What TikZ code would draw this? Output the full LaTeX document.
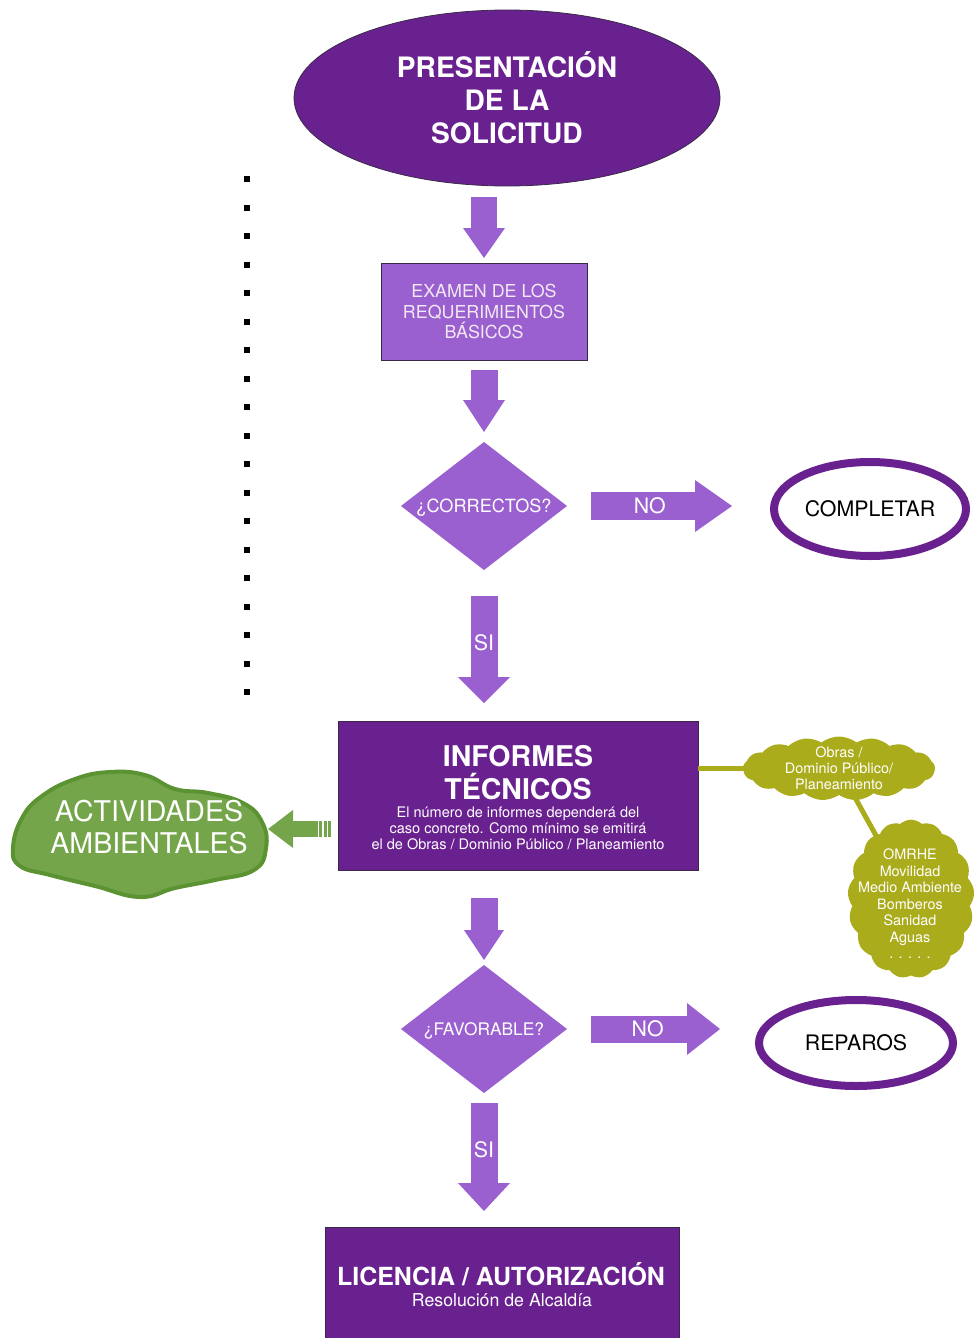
\documentclass[tikz,border=0pt]{standalone}
\usepackage{fontspec}
\setmainfont{TeX Gyre Heros}
\usetikzlibrary{shapes.geometric,shapes.symbols,arrows.meta}
\definecolor{dpurple}{HTML}{6A2190}
\definecolor{lpurple}{HTML}{9A60CF}
\definecolor{edgedark}{HTML}{3A2A48}
\definecolor{lighttext}{HTML}{F2E8F4}
\definecolor{myolive}{HTML}{ABAC1C}
\definecolor{gfill}{HTML}{74A54A}
\definecolor{gedge}{HTML}{5B9332}
\newcommand\myfs[2]{\fontsize{#1}{#2}\selectfont}
\begin{document}
\begin{tikzpicture}[x=0.75pt,y=-0.75pt,
  every node/.style={outer sep=0pt},
  darkbox/.style={rectangle, fill=dpurple, draw=edgedark, line width=0.6pt, inner sep=0pt},
  lightbox/.style={rectangle, fill=lpurple, draw=edgedark, line width=0.6pt, inner sep=0pt},
  decision/.style={diamond, fill=lpurple, inner sep=0pt, minimum width=124.5pt, minimum height=96pt},
  ring/.style={ellipse, draw=dpurple, line width=6pt, fill=white, inner sep=0pt, text=black, font=\myfs{16}{19}},
  blockarrow/.style n args={3}{draw=lpurple, line width=#1, -{Triangle[length=#2, width=#3, line width=0pt]}},
  arrowlabel/.style={text=white, font=\myfs{16}{19}, inner sep=0pt},
  olivecloud/.style={cloud, cloud ignores aspect, fill=myolive, inner sep=0pt},
  oliveline/.style={draw=myolive, line width=3.75pt},
  wtext/.style={text=white, align=center, inner sep=0pt},
]
\useasboundingbox (0,0) rectangle (974,1338);
\clip (0,0) rectangle (974,1338);

% dotted column
\foreach \k in {0,...,18} \fill[black] (244,{176+28.5*\k}) rectangle ++(6,6);

% main nodes
\node[ellipse, fill=dpurple, draw=edgedark, line width=0.6pt, minimum width=319.5pt, minimum height=132pt, wtext, font=\bfseries\myfs{21.1}{24.75}] (pres) at (507,98) {PRESENTACIÓN\\DE LA\\SOLICITUD};

\node[lightbox, minimum width=154.5pt, minimum height=72.75pt, text=lighttext, align=center, font=\myfs{13.4}{15.2}] (exam) at (484,311.5) {EXAMEN DE LOS\\REQUERIMIENTOS\\BÁSICOS};

\node[decision] (corr) at (484,506) {};
\node[text=white, inner sep=0pt, anchor=base, font=\myfs{13.6}{16}] (corrtxt) at (484,512.5) {¿CORRECTOS?};

\node[ring, minimum width=144pt, minimum height=70.5pt] (compl) at (870,509) {COMPLETAR};

\node[darkbox, minimum width=270pt, minimum height=111.75pt] (inf) at (518,795.5) {};
\node[wtext, font=\bfseries\myfs{21.4}{24.75}] (inftitle) at (518,772.5) {INFORMES\\TÉCNICOS};
\node[wtext, font=\myfs{10.9}{12}] (infsub) at (518,828.5) {El número de informes dependerá del\\caso concreto. Como mínimo se emitirá\\el de Obras / Dominio Público / Planeamiento};

\node[decision] (fav) at (484,1029) {};
\node[text=white, inner sep=0pt, anchor=base, font=\myfs{13}{16}] (favtxt) at (484,1035.3) {¿FAVORABLE?};

\node[ring, minimum width=145.5pt, minimum height=64.5pt] (rep) at (856,1043) {REPAROS};

\node[darkbox, minimum width=265.5pt, minimum height=88.5pt] (lic) at (502,1286) {};
\node[text=white, inner sep=0pt, anchor=base, font=\bfseries\myfs{18.7}{22}] (lictitle) at (501,1285) {LICENCIA / AUTORIZACIÓN};
\node[text=white, inner sep=0pt, anchor=base, font=\myfs{13.3}{16}] (licsub) at (502,1306) {Resolución de Alcaldía};

% purple block arrows
\draw[blockarrow={19.5pt}{22.5pt}{31.5pt}, shorten <=8.25pt, shorten >=3.75pt] (exam.north |- pres.south) -- (exam.north);
\draw[blockarrow={20.25pt}{24pt}{31.5pt}, shorten <=7.5pt, shorten >=7.5pt] (exam.south) -- (corr.north);
\draw[blockarrow={21pt}{27.75pt}{39pt}, shorten <=18pt, shorten >=31.5pt] (corr.east) -- (corr.east -| compl.west) node[arrowlabel, pos=0.4] (no1) {NO};
\draw[blockarrow={20.25pt}{19.5pt}{39pt}, shorten <=19.5pt, shorten >=13.5pt] (corr.south) -- (corr.south |- inf.north) node[arrowlabel, pos=0.483] (si1) {SI};
\draw[blockarrow={20.25pt}{22.5pt}{30pt}, shorten <=21pt, shorten >=3.75pt] (fav.north |- inf.south) -- (fav.north);
\draw[blockarrow={20.25pt}{24.75pt}{39pt}, shorten <=18pt, shorten >=29.25pt] (fav.east) -- (fav.east -| rep.west) node[arrowlabel, pos=0.42] (no2) {NO};
\draw[blockarrow={20.25pt}{21pt}{39pt}, shorten <=7.5pt, shorten >=12pt] (fav.south) -- (fav.south |- lic.north) node[arrowlabel, pos=0.425] (si2) {SI};

% olive clouds
\coordinate (c1) at (839,768.5);
\coordinate (c2) at (911,899);
\draw[oliveline] (c1) -- (c2);
\draw[oliveline] (inf.east |- c1) -- (c1);
\node[olivecloud, cloud puffs=17, cloud puff arc=75, minimum width=144pt, minimum height=48pt] (cl1) at (c1) {};
\node[wtext, font=\myfs{10.8}{12}] (cl1txt) at (839,768) {Obras /\\Dominio Público/\\Planeamiento};
\node[olivecloud, cloud puffs=17, cloud puff arc=85, minimum width=95pt, minimum height=119pt] (cl2) at (c2) {};
\node[wtext, font=\myfs{10.8}{12.4}] (cl2txt) at (910,904) {OMRHE\\Movilidad\\Medio Ambiente\\Bomberos\\Sanidad\\Aguas\\. . . . .};

% green blob
\draw[draw=gedge, fill=gfill, line width=3pt] plot[smooth cycle, tension=0.75] coordinates {
 (13,848) (22,818) (42,796) (75,779) (110,772) (145,775) (175,789) (208,793) (243,803) (262,822) (266,848) (254,870) (215,880) (175,888) (140,897) (95,886) (50,875) (20,866)};
\coordinate (blobE) at (267,829);
\node[wtext, font=\myfs{21.4}{24}] (actxt) at (149,827) {ACTIVIDADES\\AMBIENTALES};

% green arrow
\draw[draw=gfill, line width=12pt, -{Triangle[length=18.75pt, width=28.5pt, line width=0pt]}, shorten <=15pt, shorten >=0.75pt] ([yshift=-25.125pt]inf.west) -- (blobE);
\fill[gfill] (319,821) rectangle (322,837);
\fill[gfill] (323.5,821) rectangle (326.5,837);
\fill[gfill] (328,821) rectangle (331,837);
\end{tikzpicture}
\end{document}
